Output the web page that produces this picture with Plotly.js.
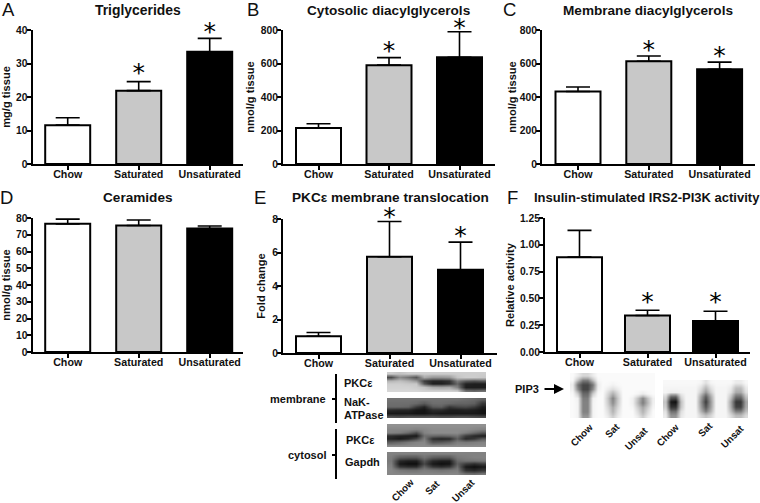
<!DOCTYPE html>
<html>
<head>
<meta charset="utf-8">
<script src="https://cdn.plot.ly/plotly-3.0.1.min.js"></script>
<style>html,body{margin:0;padding:0;background:#fff;}#chart{width:760px;height:503px;}</style>
</head>
<body>
<div id="chart"></div>
<script>
// ---------- data ----------
const groups = ["Chow", "Saturated", "Unsaturated"];
const barColors = ["#ffffff", "#c8c8c8", "#000000"];

const triglycerides = [11.6, 21.9, 33.5];
const triglyceridesErr = [2.2, 2.7, 4.0];
const triglyceridesStars = [null, 26.6, 38.8];

const cytosolicDag = [215, 590, 637];
const cytosolicDagErr = [25, 45, 153];
const cytosolicDagStars = [null, 663, 799];

const membraneDag = [433, 613, 565];
const membraneDagErr = [27, 32, 43];
const membraneDagStars = [null, 669, 633];

const ceramides = [76.5, 75.5, 73.7];
const ceramidesErr = [2.8, 3.3, 1.5];
const ceramidesStars = [null, null, null];

const pkcFold = [1.0, 5.75, 4.97];
const pkcFoldErr = [0.22, 2.1, 1.65];
const pkcFoldStars = [null, 7.99, 6.87];

const irs2Activity = [0.885, 0.34, 0.29];
const irs2ActivityErr = [0.25, 0.05, 0.09];
const irs2ActivityStars = [null, 0.448, 0.448];

// blot densitometry (grey level per lane-block, read by eye)
const blotMembranePkc = [
 [205,195,205,205,205,205,205,205,205,205,205,205],
 [75,140,115,85,170,150,150,155,195,205,205,200],
 [180,190,175,150,60,40,40,50,125,95,85,95],
 [205,205,200,200,85,30,30,45,100,35,30,30],
 [210,210,210,205,195,170,165,170,130,30,30,30],
 [215,215,215,215,210,210,210,210,205,115,105,115]];
const blotNaK = [
 [115,115,115,115,115,115,115,115,115,110,105,95],
 [110,110,110,105,90,110,110,105,100,100,95,55],
 [105,105,100,60,35,90,95,55,70,75,60,30],
 [45,40,40,25,20,45,45,30,30,35,30,20],
 [25,25,25,20,20,30,25,25,25,25,25,20],
 [85,80,85,85,85,85,80,80,85,85,80,75]];
const blotCytosolPkc = [
 [145,145,145,145,145,145,145,145,145,145,145,145],
 [135,135,135,130,135,140,140,140,140,140,135,130],
 [130,125,105,75,130,140,140,140,140,125,105,85],
 [45,35,30,25,110,105,100,105,115,60,40,30],
 [35,25,40,70,125,45,35,40,95,40,55,90],
 [95,105,120,130,135,85,90,100,125,120,125,130],
 [140,140,140,140,140,140,140,140,140,140,140,140]];
const blotGapdh = [
 [130,130,130,130,130,130,130,130,130,130,130,130],
 [125,95,90,90,115,95,90,90,120,125,130,130],
 [120,40,30,30,85,40,30,30,105,115,115,120],
 [125,25,15,15,70,25,15,20,95,60,45,60],
 [130,55,45,45,100,55,45,55,110,25,15,25],
 [135,120,115,115,125,120,115,120,125,50,40,55],
 [135,135,135,135,135,135,135,135,135,115,110,120]];
const blotPip3Left = [
 [250,235,215,215,235,250,250,250,250,250,250,250,250,250,250,250,250],
 [248,190,125,125,190,245,250,250,250,250,250,250,250,250,250,250,250],
 [235,120,70,70,120,235,250,248,242,248,250,250,250,250,250,250,250],
 [240,140,70,70,140,240,250,235,220,235,250,250,250,250,250,250,250],
 [248,205,105,105,205,248,250,215,175,215,250,250,250,245,235,245,250],
 [250,240,125,125,240,250,250,200,130,200,250,250,240,195,135,195,240],
 [250,243,130,130,243,250,250,205,140,205,250,250,240,185,125,185,240],
 [250,243,130,130,243,250,250,215,170,215,250,250,245,205,165,205,245],
 [250,243,130,130,243,250,250,225,180,225,250,250,250,220,180,220,250],
 [250,243,150,150,243,250,250,235,205,235,250,250,250,235,205,235,250]];
const blotPip3Right = [
 [248,248,248,248,248,248,248,245,225,245,248,248,248,248,235,235,248],
 [245,245,245,245,245,245,245,225,185,225,245,245,245,235,190,190,235],
 [245,238,238,242,245,245,245,205,150,205,245,245,245,225,170,170,225],
 [215,100,95,215,245,245,245,165,90,170,245,245,245,195,110,110,195],
 [195,25,15,190,245,245,245,150,60,155,245,245,245,165,55,55,165],
 [205,50,50,195,245,245,245,160,85,160,245,245,245,170,65,65,170],
 [225,110,110,220,245,245,245,180,125,180,245,245,245,190,125,125,190],
 [235,150,150,230,245,245,245,215,195,215,245,245,245,220,190,190,220]];

// ---------- layout helpers ----------
const W = 760, H = 503;
const BOLD = '"Liberation Sans", Arial, sans-serif';
const INK = "#111111";
const px = x => x / W;
const py = y => 1 - y / H;

const panels = [
  {title:"Triglycerides", size:13.9, letter:"A", unit:"mg/g tissue", v:triglycerides, e:triglyceridesErr, s:triglyceridesStars, max:40, dtick:10, box:[32.5,243,30,164], c0:67.7, step:71, tx:138, ty:10, lx:8, ly:9, standoff:3},
  {title:"Cytosolic diacylglycerols", size:13.6, letter:"B", unit:"nmol/g tissue", v:cytosolicDag, e:cytosolicDagErr, s:cytosolicDagStars, max:800, dtick:200, box:[283,495,30,164], c0:318.5, step:70.5, tx:388, ty:10, lx:253, ly:9, standoff:4},
  {title:"Membrane diacylglycerols", size:13.6, letter:"C", unit:"nmol/g tissue", v:membraneDag, e:membraneDagErr, s:membraneDagStars, max:800, dtick:200, box:[542,755,30,164], c0:578, step:70.8, tx:648, ty:10, lx:509, ly:9, standoff:1},
  {title:"Ceramides", size:13.6, letter:"D", unit:"nmol/g tissue", v:ceramides, e:ceramidesErr, s:ceramidesStars, max:80, dtick:10, box:[32.5,243,218,352], c0:67.7, step:71, tx:138, ty:198, lx:6, ly:197, standoff:3},
  {title:"PKCε membrane translocation", size:13.6, letter:"E", unit:"Fold change", v:pkcFold, e:pkcFoldErr, s:pkcFoldStars, max:8, dtick:2, box:[283,497,219,353], c0:318.5, step:71, tx:390, ty:198, lx:260, ly:197, standoff:4},
  {title:"Insulin-stimulated IRS2-PI3K activity", size:13, letter:"F", unit:"Relative activity", v:irs2Activity, e:irs2ActivityErr, s:irs2ActivityStars, max:1.25, dtick:0.25, fmt:".2f", box:[545,750,218,352], c0:579.5, step:68, tx:647, ty:198, lx:512, ly:197, standoff:3}
];

const blots = [
  {z:blotMembranePkc, box:[387,486,372,392]},
  {z:blotNaK, box:[387,486,398,418]},
  {z:blotCytosolPkc, box:[387,486,424,447]},
  {z:blotGapdh, box:[387,486,452,475]},
  {z:blotPip3Left, box:[570,655,373,418]},
  {z:blotPip3Right, box:[663,748,380,418]}
];

const blotLabels = [
  ["membrane",298,399,"center"],["cytosol",307,455,"center"],
  ["PKCε",342,383,"left"],["NaK-",342,402,"left"],["ATPase",342,415,"left"],
  ["PKCε",344,440,"left"],["Gapdh",343,462,"left"],
  ["PIP3",527,389,"center"]
];
const laneLabels = [
  ["Chow",402,490],["Sat",432,487],["Unsat",463,490],
  ["Chow",581,435],["Sat",612,430],["Unsat",636,438],
  ["Chow",667,435],["Sat",705,429],["Unsat",732,436]
];
const brackets = [
  [336,374,336,423],[332,399,336,399],
  [336,429,336,479],[332,455,336,455]
];

const data = [];
const layout = {
  width:W, height:H, margin:{l:0,r:0,t:0,b:0},
  paper_bgcolor:"#fff", plot_bgcolor:"rgba(0,0,0,0)",
  showlegend:false, annotations:[], shapes:[],
  font:{family:BOLD,color:INK}
};

function note(text,x,y,size,opts){
  layout.annotations.push(Object.assign({
    text:text, xref:"paper", yref:"paper", x:px(x), y:py(y),
    xanchor:"center", yanchor:"middle", showarrow:false,
    font:{family:BOLD,size:size,color:INK}
  },opts||{}));
}

panels.forEach((p,i)=>{
  const n=i+1, sfx=n===1?"":String(n);
  const [x0,x1,yTop,yBot]=p.box;
  data.push({
    type:"bar", x:groups, y:p.v, xaxis:"x"+sfx, yaxis:"y"+sfx,
    width:45/p.step,
    marker:{color:barColors,line:{color:"#000",width:2}},
    error_y:{type:"data",array:p.e,symmetric:false,arrayminus:[0,0,0],color:"#000",thickness:1.6,width:12},
    hoverinfo:"skip"
  });
  data.push({
    type:"scatter", mode:"text", x:groups, y:p.s, text:groups.map(()=>"*"),
    textposition:"middle center", cliponaxis:false,
    textfont:{family:'"DejaVu Sans",sans-serif',size:25,color:"#000"},
    xaxis:"x"+sfx, yaxis:"y"+sfx, hoverinfo:"skip"
  });
  layout["xaxis"+sfx]={
    domain:[px(x0),px(x1)], anchor:"y"+sfx, type:"category",
    range:[(x0-p.c0)/p.step,(x1-p.c0)/p.step], categoryorder:"array", categoryarray:groups,
    showgrid:false, zeroline:false, showline:true, linecolor:"#000", linewidth:2,
    ticks:"outside", ticklen:4, tickwidth:2, tickcolor:"#000", ticklabelstandoff:-5,
    tickfont:{family:BOLD,size:10.7,color:INK,weight:"bold"}, tickangle:0
  };
  layout["yaxis"+sfx]={
    domain:[py(yBot),py(yTop)], anchor:"x"+sfx, range:[0,p.max], dtick:p.dtick, tick0:0,
    tickformat:p.fmt||"", showgrid:false, zeroline:false, showline:true, linecolor:"#000", linewidth:2,
    ticks:"outside", ticklen:4, tickwidth:2, tickcolor:"#000", ticklabelstandoff:-3,
    tickfont:{family:BOLD,size:10.3,color:INK,weight:"bold"},
    title:{text:"<b>"+p.unit+"</b>",font:{family:BOLD,size:11.1,color:INK},standoff:p.standoff}
  };
  note("<b>"+p.title+"</b>",p.tx,p.ty,p.size);
  note(p.letter,p.lx,p.ly,18.5);
});

blots.forEach((b,i)=>{
  const n=panels.length+i+1;
  data.push({
    type:"heatmap", z:b.z, xaxis:"x"+n, yaxis:"y"+n,
    colorscale:[[0,"#000"],[1,"#fff"]], zmin:0, zmax:255, zsmooth:"best",
    showscale:false, hoverinfo:"skip"
  });
  layout["xaxis"+n]={domain:[px(b.box[0]),px(b.box[1])],anchor:"y"+n,visible:false,range:[-0.5,b.z[0].length-0.5]};
  layout["yaxis"+n]={domain:[py(b.box[3]),py(b.box[2])],anchor:"x"+n,visible:false,range:[b.z.length-0.5,-0.5]};
});

blotLabels.forEach(l=>note("<b>"+l[0]+"</b>",l[1],l[2],11,{xanchor:l[3]}));
laneLabels.forEach(l=>note("<b>"+l[0]+"</b>",l[1],l[2],9.8,{textangle:-45}));
brackets.forEach(s=>layout.shapes.push({
  type:"line",xref:"paper",yref:"paper",x0:px(s[0]),y0:py(s[1]),x1:px(s[2]),y1:py(s[3]),
  line:{color:"#000",width:2}
}));
layout.annotations.push({
  text:"",xref:"paper",yref:"paper",x:px(564),y:py(389),axref:"pixel",ayref:"pixel",ax:-21,ay:0,
  showarrow:true,arrowhead:2,arrowsize:1,arrowwidth:2,arrowcolor:"#000"
});

Plotly.newPlot("chart",data,layout,{displayModeBar:false,staticPlot:true});
</script>
</body>
</html>
